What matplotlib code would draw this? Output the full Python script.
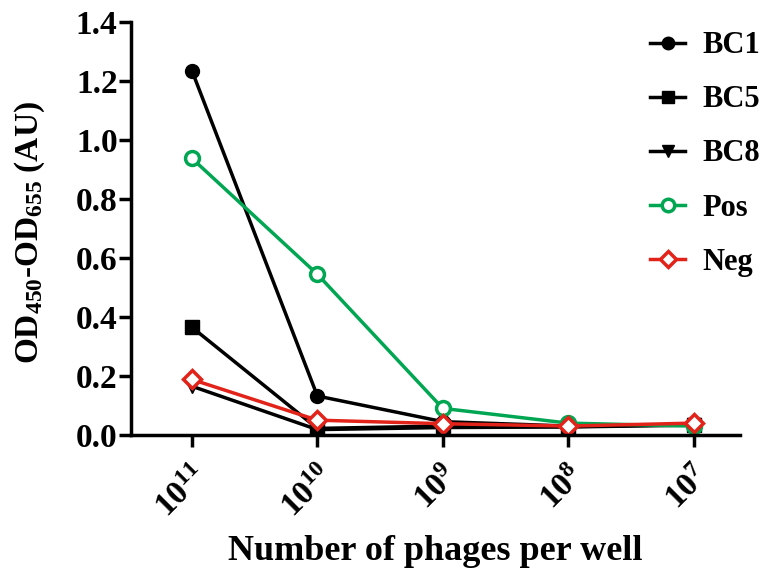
import matplotlib
matplotlib.use("Agg")
import matplotlib.pyplot as plt
import numpy as np

plt.rcParams['font.family'] = ['Liberation Serif', 'DejaVu Serif']
plt.rcParams['font.weight'] = 'bold'
plt.rcParams['mathtext.fontset'] = 'custom'
plt.rcParams['mathtext.rm'] = 'Liberation Serif:bold'
plt.rcParams['mathtext.bf'] = 'Liberation Serif:bold'
plt.rcParams['mathtext.it'] = 'Liberation Serif:bold'
plt.rcParams['mathtext.default'] = 'rm'

categories = [r'$10^{11}$', r'$10^{10}$', r'$10^{9}$', r'$10^{8}$', r'$10^{7}$']
bc1 = [1.235, 0.132, 0.045, 0.030, 0.035]
bc5 = [0.365, 0.022, 0.030, 0.028, 0.035]
bc8 = [0.165, 0.018, 0.025, 0.027, 0.033]
pos = [0.938, 0.545, 0.090, 0.040, 0.030]
neg = [0.188, 0.050, 0.038, 0.030, 0.040]

green = '#00A651'
red = '#E2231A'

fig = plt.figure(figsize=(7.74, 5.70), dpi=100)
ax = fig.add_axes([0.169, 0.237, 0.787, 0.724])
x = np.arange(len(categories))

ax.plot(x, bc1, color='black', lw=2.5, marker='o', ms=10, label='BC1')
ax.plot(x, bc5, color='black', lw=2.5, marker='s', ms=10, label='BC5')
ax.plot(x, bc8, color='black', lw=2.5, marker='v', ms=10, label='BC8')
ax.plot(x, pos, color=green, lw=2.5, marker='o', ms=10, mfc='white', mew=2.5, label='Pos')
ax.plot(x, neg, color=red, lw=2.5, marker='D', ms=9, mfc='white', mew=2.5, label='Neg')

ax.set_xlim(-0.488, 4.37)
ax.set_ylim(0, 1.4)
yt = np.arange(0, 1.41, 0.2)
ax.set_yticks(yt)
ax.set_yticklabels([f'{v:.1f}' for v in yt], fontsize=24)
ax.set_xticks(x)
ax.set_xticklabels(categories, fontsize=24, rotation=45, ha='right', rotation_mode='anchor')

for s in ['top', 'right']:
    ax.spines[s].set_visible(False)
for s in ['left', 'bottom']:
    ax.spines[s].set_linewidth(2.5)
ax.tick_params(width=2.5, length=8.5, direction='out')
ax.tick_params(axis='y', pad=1)
ax.tick_params(axis='x', pad=10)

ax.set_ylabel(r'OD$_{450}$-OD$_{655}$ (AU)', fontsize=24, fontweight='bold')
ax.yaxis.set_label_coords(-0.138, 0.49)
ax.set_xlabel('Number of phages per well', fontsize=26, fontweight='bold', labelpad=8)

leg = fig.legend(loc='upper left', bbox_to_anchor=(0.84, 0.945), frameon=False,
                 fontsize=22, handlelength=1.15, labelspacing=0.82, handletextpad=0.55,
                 markerscale=0.9, borderpad=0, borderaxespad=0)

fig.savefig('out.png', dpi=100)
